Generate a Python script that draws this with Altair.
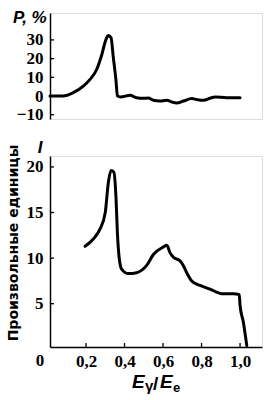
import altair as alt
import pandas as pd

# Polarization P, %
p_x = [0.013, 0.08, 0.134, 0.186, 0.221, 0.256, 0.28, 0.304, 0.316, 0.33, 0.342, 0.356,
       0.363, 0.38, 0.429, 0.463, 0.498, 0.524, 0.55, 0.584, 0.619, 0.645, 0.671, 0.706,
       0.749, 0.775, 0.81, 0.844, 0.87, 0.931, 1.0]
p_y = [0.0, 0.0, 1.8, 5.3, 8.9, 14.3, 21.4, 30.3, 32.4, 31.2, 20.5, 8.0,
       0.0, -0.5, 0.35, -0.9, -1.2, -1.1, -2.3, -2.7, -2.3, -3.2, -3.7, -2.7,
       -1.4, -1.9, -2.3, -1.2, -0.5, -0.9, -0.9]

# Intensity I, arbitrary units
i_x = [0.195, 0.238, 0.273, 0.3, 0.316, 0.33, 0.345, 0.356, 0.363, 0.373, 0.385, 0.42,
       0.463, 0.515, 0.55, 0.6, 0.62, 0.636, 0.654, 0.688, 0.705, 0.723, 0.749, 0.792,
       0.844, 0.905, 0.965, 0.996, 1.0, 1.017, 1.035]
i_y = [11.3, 12.1, 13.2, 15.0, 18.3, 19.6, 19.4, 16.5, 12.8, 9.9, 8.8, 8.3,
       8.4, 9.2, 10.4, 11.2, 11.4, 10.6, 10.1, 9.7, 9.2, 8.4, 7.5, 7.0,
       6.6, 6.1, 6.1, 6.0, 4.8, 3.0, 0.4]

p_ticks = [-10, 0, 10, 20, 30]
i_ticks = [5, 10, 15, 20]
x_ticks = [0.2, 0.4, 0.6, 0.8, 1.0]

NUM_FONT = "Liberation Sans Narrow"
W = 212
H_TOP = 106
H_BOT = 191

xscale = alt.Scale(domain=[0.013, 1.114], nice=False, zero=False)
p_yscale = alt.Scale(domain=[-12.3, 44.4], nice=False, zero=False)
i_yscale = alt.Scale(domain=[0.25, 21.2], nice=False, zero=False)

p_df = pd.DataFrame({"x": p_x, "y": p_y})
i_df = pd.DataFrame({"x": i_x, "y": i_y})

axis_style = dict(ticks=False, grid=False, labelFont=NUM_FONT, labelFontSize=17,
                  labelFontWeight="bold", labelColor="black",
                  labelOverlap=False, domainColor="black", domainWidth=1.5, title=None)

p_axis = alt.Axis(values=p_ticks, labelPadding=7, **axis_style)
i_axis = alt.Axis(values=i_ticks, labelPadding=7, **axis_style)
x_axis = alt.Axis(values=x_ticks, labelPadding=6,
                  labelExpr="replace(format(datum.value, '.1f'), '.', ',')", **axis_style)

# ---------- top chart ----------
top_line = alt.Chart(p_df).mark_line(
    color="black", strokeWidth=3, interpolate="monotone", strokeCap="round", strokeJoin="round"
).encode(
    x=alt.X("x:Q", scale=xscale, axis=None),
    y=alt.Y("y:Q", scale=p_yscale, axis=p_axis),
)
top_ticks = alt.Chart(pd.DataFrame({"v": p_ticks})).mark_rule(color="black", strokeWidth=1.3).encode(
    y=alt.Y("v:Q", scale=p_yscale, axis=p_axis), x=alt.value(0), x2=alt.value(4)
)
top_title = alt.Chart(pd.DataFrame({"t": ["P, %"]})).mark_text(
    font="Liberation Sans", fontSize=17, fontStyle="italic", fontWeight="bold",
    align="left", baseline="middle", color="black"
).encode(text="t:N", x=alt.value(-37), y=alt.value(5))

top = alt.layer(top_line, top_ticks, top_title).properties(width=W, height=H_TOP)

# ---------- bottom chart ----------
bot_line = alt.Chart(i_df).mark_line(
    color="black", strokeWidth=3, interpolate="monotone", strokeCap="round", strokeJoin="round"
).encode(
    x=alt.X("x:Q", scale=xscale, axis=x_axis),
    y=alt.Y("y:Q", scale=i_yscale, axis=i_axis),
)
bot_yticks = alt.Chart(pd.DataFrame({"v": i_ticks})).mark_rule(color="black", strokeWidth=1.3).encode(
    y=alt.Y("v:Q", scale=i_yscale, axis=i_axis), x=alt.value(0), x2=alt.value(4)
)
bot_xticks = alt.Chart(pd.DataFrame({"v": x_ticks})).mark_rule(color="black", strokeWidth=1.3).encode(
    x=alt.X("v:Q", scale=xscale, axis=x_axis), y=alt.value(H_BOT), y2=alt.value(H_BOT - 4)
)
zero_label = alt.Chart(pd.DataFrame({"t": ["0"]})).mark_text(
    font=NUM_FONT, fontSize=17, fontWeight="bold", align="center", baseline="top", color="black"
).encode(text="t:N", x=alt.value(-10), y=alt.value(H_BOT + 6))

i_title = alt.Chart(pd.DataFrame({"t": ["I"]})).mark_text(
    font="Liberation Sans", fontSize=17, fontStyle="italic", fontWeight="bold",
    align="center", baseline="middle", color="black"
).encode(text="t:N", x=alt.value(-10), y=alt.value(-8))

v_title = alt.Chart(pd.DataFrame({"t": ["Произвольные единицы"]})).mark_text(
    font="DejaVu Sans", fontSize=14, fontWeight="bold", angle=270,
    align="center", baseline="middle", color="black"
).encode(text="t:N", x=alt.value(-36), y=alt.value(87))

def piece(txt, x, y, size, italic=True):
    kw = dict(font="Liberation Sans", fontSize=size, fontWeight="bold",
              align="left", baseline="alphabetic", color="black")
    if italic:
        kw["fontStyle"] = "italic"
    return alt.Chart(pd.DataFrame({"t": [txt]})).mark_text(**kw).encode(
        text="t:N", x=alt.value(x), y=alt.value(y))

x_title = alt.layer(
    piece("E", 82, 232, 19),
    piece("γ", 95, 235, 15, italic=False),
    piece("/", 103, 234, 19, italic=False),
    piece("E", 110, 232, 19),
    piece("e", 123, 236, 13, italic=False),
)

bottom = alt.layer(bot_line, bot_yticks, bot_xticks, zero_label, i_title, v_title, x_title).properties(
    width=W, height=H_BOT)

chart = alt.vconcat(top, bottom, spacing=37, bounds="flush").properties(
    padding={"left": 6, "top": 8, "right": 5, "bottom": 2}
).configure_view(stroke=None).configure(background="white")

chart.save("out.html", embed_options={"renderer": "svg", "actions": False})
